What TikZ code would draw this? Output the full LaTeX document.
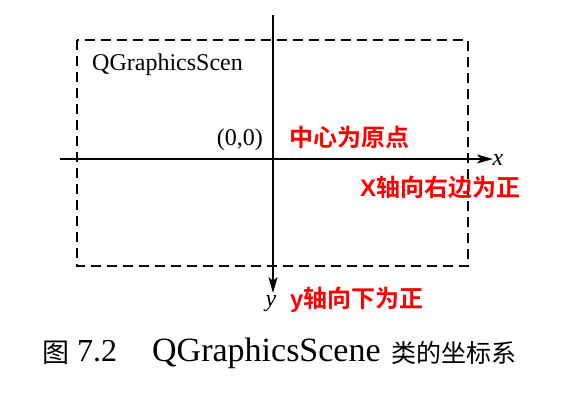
\documentclass[tikz,border=0pt]{standalone}
\usepackage{fontspec}
\setmainfont{Liberation Serif}
\newfontfamily\cjk{Noto Sans CJK SC}
\newfontfamily\cjkb{Noto Sans CJK SC Bold}
\newfontfamily\redsans{Liberation Sans}
\usetikzlibrary{arrows.meta}
\begin{document}
\begin{tikzpicture}[x=1pt,y=-1pt,
  axis/.style={line width=1.8pt,-{Stealth[length=16pt,width=9pt,inset=4pt]}},
  scenebox/.style={line width=1.6pt,dash pattern=on 10pt off 6pt},
  note/.style={text=red,inner sep=0pt,font=\fontsize{24}{24}\selectfont\cjkb},
  lab/.style={inner sep=0pt,font=\fontsize{24}{24}\selectfont}]
\useasboundingbox (0,0) rectangle (582,411);
\fill[white] (0,0) rectangle (582,411);
\coordinate (tl) at (77,40);
\coordinate (br) at (468,266);
\draw[scenebox] (tl) rectangle (br);
\coordinate (xs) at (60,159);
\coordinate (xe) at (493,159);
\coordinate (ys) at (273,15);
\coordinate (ye) at (273,293);
\draw[axis] (xs) -- (xe);
\draw[axis] (ys) -- (ye);
\node[lab,font=\fontsize{24}{24}\selectfont\itshape] (xl) at (498,160) {x};
\node[lab,font=\fontsize{24}{24}\selectfont\itshape] (yl) at (271,304) {y};
\node[lab,anchor=base west] (scene) at (92,71) {QGraphicsScen};
\node[lab,anchor=base east] (orig) at (263,146) {(0,0)};
\node[note,anchor=west] (n1) at (289,137) {中心为原点};
\node[note,anchor=west] (n2) at (360,187) {{\redsans\bfseries X}轴向右边为正};
\node[note,anchor=west] (n3) at (290,300) {{\redsans\bfseries y}轴向下为正};
\node[inner sep=0pt,anchor=base west,font=\fontsize{27}{27}\selectfont\cjk] (cap1) at (42,363) {图};
\node[inner sep=0pt,anchor=base west,font=\fontsize{32}{32}\selectfont] (cap2) at (77,362) {7.2};
\node[inner sep=0pt,anchor=base west,font=\fontsize{34}{34}\selectfont] (cap3) at (152,362) {QGraphicsScene};
\node[inner sep=0pt,anchor=base west,font=\fontsize{25}{25}\selectfont\cjk] (cap4) at (391,363) {类的坐标系};
\end{tikzpicture}
\end{document}
